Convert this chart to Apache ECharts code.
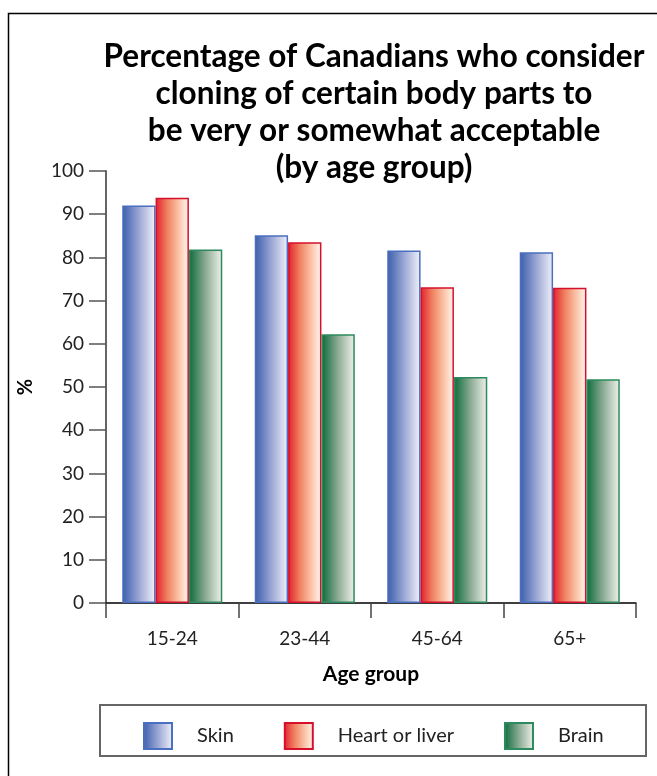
<!DOCTYPE html>
<html>
<head>
<meta charset="utf-8">
<script src="https://cdn.jsdelivr.net/npm/echarts@6/dist/echarts.min.js"></script>
<style>
  html, body { margin: 0; padding: 0; background: #fff; }
  #chart { width: 657px; height: 776px; }
</style>
</head>
<body>
<div id="chart"></div>
<script>
// Age groups on the category axis
const ageGroups = ['15-24', '23-44', '45-64', '65+'];

// Share (%) finding cloning acceptable, per body part
const skin = [92.0, 85.1, 81.6, 81.2];
const heartOrLiver = [93.8, 83.5, 73.1, 73.0];
const brain = [81.8, 62.2, 52.3, 51.8];

const seriesNames = ['Skin', 'Heart or liver', 'Brain'];
const yTicks = { min: 0, max: 100, step: 10 };

const FONT = 'Lato, "Open Sans", sans-serif';

// Left-to-right fade from a saturated edge to near white
function fade(stops) {
  return new echarts.graphic.LinearGradient(0, 0, 1, 0,
    stops.map(([offset, color]) => ({ offset, color })));
}

const styles = [
  { fill: fade([[0, '#3a5dab'], [0.5, '#9aa6d4'], [1, '#f2f2fa']]), border: '#4a6fc0' },
  { fill: fade([[0, '#e3202e'], [0.35, '#f08060'], [0.7, '#fbc4a8'], [1, '#fff8f2']]), border: '#d5102c' },
  { fill: fade([[0, '#0b6b3a'], [0.5, '#8cab95'], [1, '#f2f3ec']]), border: '#2c8a5c' }
];

const values = [skin, heartOrLiver, brain];

const chart = echarts.init(document.getElementById('chart'), null, { renderer: 'canvas' });

chart.setOption({
  animation: false,
  backgroundColor: '#ffffff',
  title: {
    text: 'Percentage of Canadians who consider\ncloning of certain body parts to\nbe very or somewhat acceptable\n(by age group)',
    left: 369,
    top: 33,
    textAlign: 'center',
    textStyle: {
      fontFamily: FONT,
      fontWeight: 'bold',
      fontSize: 31.5,
      lineHeight: 37,
      color: '#000'
    }
  },
  graphic: [
    // Frame around the whole figure
    {
      type: 'rect',
      shape: { x: 8.5, y: 13.5, width: 700, height: 800 },
      style: { fill: 'none', stroke: '#000', lineWidth: 1.5 },
      silent: true,
      z: -1
    },
    // Legend box
    {
      type: 'rect',
      shape: { x: 100, y: 705, width: 546, height: 51 },
      style: { fill: '#fff', stroke: '#666', lineWidth: 2 },
      silent: true,
      z: 0
    }
  ],
  legend: {
    data: seriesNames,
    left: 138,
    top: 717,
    itemWidth: 28,
    itemHeight: 26,
    itemGap: 50,
    icon: 'rect',
    textStyle: {
      fontFamily: FONT,
      fontSize: 20,
      color: '#222',
      padding: [0, 0, 0, 20]
    },
    z: 5
  },
  grid: {
    left: 106,
    right: 21,
    top: 171,
    bottom: 173
  },
  xAxis: {
    type: 'category',
    data: ageGroups,
    name: 'Age group',
    nameLocation: 'middle',
    nameGap: 61,
    nameTextStyle: {
      fontFamily: FONT,
      fontWeight: 'bold',
      fontSize: 21,
      color: '#000'
    },
    axisLine: { lineStyle: { color: '#000', width: 1.5 } },
    axisTick: { show: true, length: 15, lineStyle: { color: '#444', width: 1.5 } },
    axisLabel: {
      margin: 26,
      fontFamily: FONT,
      fontSize: 19,
      color: '#222'
    }
  },
  yAxis: {
    type: 'value',
    min: yTicks.min,
    max: yTicks.max,
    interval: yTicks.step,
    name: '%',
    nameLocation: 'middle',
    nameRotate: 90,
    nameGap: 70,
    nameTextStyle: {
      fontFamily: FONT,
      fontWeight: 'bold',
      fontSize: 20,
      color: '#000'
    },
    axisLine: { show: true, lineStyle: { color: '#666', width: 2 } },
    axisTick: { show: true, length: 17, lineStyle: { color: '#555', width: 1.5 } },
    splitLine: { show: false },
    axisLabel: {
      margin: 22,
      fontFamily: FONT,
      fontSize: 19,
      color: '#222'
    }
  },
  series: seriesNames.map((name, i) => ({
    name,
    type: 'bar',
    data: values[i],
    barGap: '0%',
    barCategoryGap: '24.5%',
    itemStyle: {
      color: styles[i].fill,
      borderColor: styles[i].border,
      borderWidth: 1.5
    }
  }))
});
</script>
</body>
</html>
